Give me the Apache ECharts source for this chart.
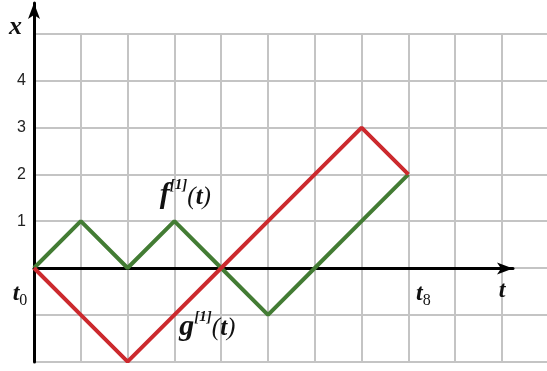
<!DOCTYPE html>
<html>
<head>
<meta charset="utf-8">
<script src="https://cdn.jsdelivr.net/npm/echarts@6/dist/echarts.min.js"></script>
<style>
  html, body { margin: 0; padding: 0; background: #fff; }
  #chart { width: 547px; height: 371px; }
</style>
</head>
<body>
<div id="chart"></div>
<script>
// values
const tVals = [0, 1, 2, 3, 4, 5, 6, 7, 8];
const fVals = [0, 1, 0, 1, 0, -1, 0, 1, 2];
const gVals = [0, -1, -2, -1, 0, 1, 2, 3, 2];
const yLabelVals = [1, 2, 3, 4];
const tLabels = { 0: '{b|t}{s0|0}', 8: '{b8|t}{s|8}', 10: '{b|t}' };
const fName = '{f|f}{s|[1]}{p|(}{b|t}{p|)}';
const gName = '{g|g}{s|[1]}{p|(}{b|t}{p|)}';

// layout: one unit on both axes = 46.8 px
const unit = 46.8;
const left = 34;
const serif = 'Liberation Serif';

const chart = echarts.init(document.getElementById('chart'));

const richText = {
  f: { fontFamily: serif, fontStyle: 'italic', fontWeight: 'bold', fontSize: 30, color: '#111' },
  g: { fontFamily: serif, fontStyle: 'italic', fontWeight: 'bold', fontSize: 30, color: '#111' },
  s: { fontFamily: serif, fontStyle: 'italic', fontWeight: 'bold', fontSize: 15, color: '#111', padding: [0, 0, 20, 0] },
  p: { fontFamily: serif, fontStyle: 'italic', fontSize: 25, color: '#111', padding: [4, 0, 0, 0] },
  b: { fontFamily: serif, fontStyle: 'italic', fontWeight: 'bold', fontSize: 25, color: '#111', padding: [4, 0, 0, 0] }
};

const tStyle = { fontFamily: serif, fontStyle: 'italic', fontWeight: 'bold', fontSize: 24, color: '#111' };
const subStyle = { fontFamily: serif, fontSize: 16, color: '#111' };
const noBounds = { outerBoundsMode: 'none', containLabel: false };

const option = {
  animation: false,
  grid: [
    // grid lines
    Object.assign({ left: left, top: 34, width: unit * 10.99, height: unit * 7 }, noBounds),
    // axes with arrows
    Object.assign({ left: left, top: 3, width: unit * 10.235, height: 362 - 3 }, noBounds),
    // t labels under the zero line
    Object.assign({ left: left, top: 34, width: unit * 10.235, height: unit * 5 }, noBounds)
  ],
  xAxis: [
    {
      gridIndex: 0, type: 'value', min: 0, max: 10.99, interval: 1,
      axisLine: { show: false }, axisTick: { show: false }, axisLabel: { show: false },
      splitLine: { show: true, lineStyle: { color: '#c4c4c4', width: 2 } }
    },
    {
      gridIndex: 1, type: 'value', min: 0, max: 10.235, interval: 1,
      axisLine: {
        show: true, onZero: true,
        symbol: ['none', 'arrow'], symbolSize: [9, 16],
        lineStyle: { color: '#000', width: 3 }
      },
      axisTick: { show: false }, axisLabel: { show: false }, splitLine: { show: false }
    },
    {
      gridIndex: 2, type: 'value', min: 0, max: 10.235, interval: 1,
      axisLine: { show: false, onZero: false }, axisTick: { show: false }, splitLine: { show: false },
      axisLabel: {
        show: true, margin: 11,
        showMinLabel: true, showMaxLabel: false,
        formatter: v => tLabels[v] || '',
        rich: {
          b: tStyle,
          b8: Object.assign({}, tStyle, { padding: [0, 0, 0, 30] }),
          s: Object.assign({}, subStyle, { padding: [14, 0, 0, 0] }),
          s0: Object.assign({}, subStyle, { padding: [14, 28, 0, 0] })
        }
      }
    }
  ],
  yAxis: [
    {
      gridIndex: 0, type: 'value', min: -2, max: 5, interval: 1,
      axisLine: { show: false }, axisTick: { show: false },
      splitLine: { show: true, lineStyle: { color: '#c4c4c4', width: 2 } },
      axisLabel: {
        show: true, margin: 8,
        formatter: v => (yLabelVals.indexOf(v) >= 0 ? String(v) : (v === 5 ? '{x|x}' : '')),
        fontFamily: 'Liberation Sans', fontSize: 16, color: '#222',
        rich: {
          x: { fontFamily: serif, fontStyle: 'italic', fontWeight: 'bold', fontSize: 26, color: '#111', padding: [0, 4, 14, 0] }
        }
      }
    },
    {
      gridIndex: 1, type: 'value', min: -2, max: (362 - 3) / unit - 2, interval: 1,
      axisLine: {
        show: true, onZero: true,
        symbol: ['none', 'arrow'], symbolSize: [9, 16],
        lineStyle: { color: '#000', width: 3 }
      },
      axisTick: { show: false }, axisLabel: { show: false }, splitLine: { show: false }
    },
    {
      gridIndex: 2, type: 'value', min: 0, max: 5, interval: 1,
      show: false
    }
  ],
  series: [
    {
      name: 'f', type: 'line', xAxisIndex: 0, yAxisIndex: 0,
      data: tVals.map((t, i) => [t, fVals[i]]),
      showSymbol: false, symbol: 'none',
      lineStyle: { color: '#437c34', width: 4 },
      z: 3,
      markPoint: {
        symbol: 'circle', symbolSize: 1, itemStyle: { color: 'transparent' },
        label: { show: true, position: 'inside', offset: [11, -26], formatter: fName, rich: richText },
        data: [{ coord: [tVals[3], fVals[3]] }]
      }
    },
    {
      name: 'g', type: 'line', xAxisIndex: 0, yAxisIndex: 0,
      data: tVals.map((t, i) => [t, gVals[i]]),
      showSymbol: false, symbol: 'none',
      lineStyle: { color: '#cc2a2e', width: 4 },
      z: 4,
      markPoint: {
        symbol: 'circle', symbolSize: 1, itemStyle: { color: 'transparent' },
        label: { show: true, position: 'inside', offset: [33, 12], formatter: gName, rich: richText },
        data: [{ coord: [tVals[3], gVals[3]] }]
      }
    }
  ]
};

chart.setOption(option);

window.addEventListener('resize', () => {
  chart.resize();
});
</script>
</body>
</html>
